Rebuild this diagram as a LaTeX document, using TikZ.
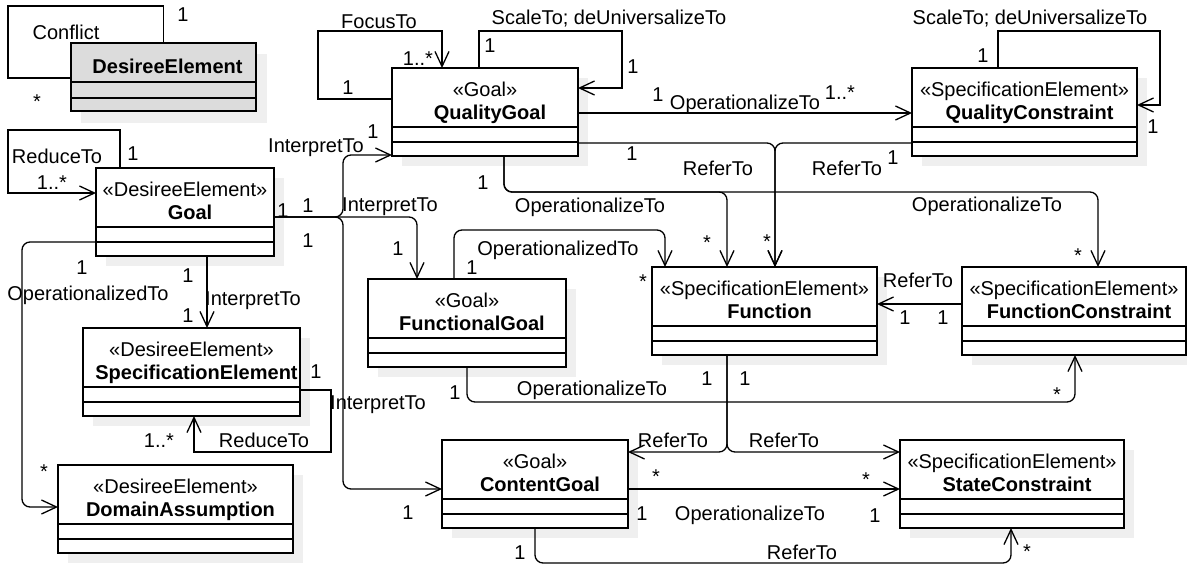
\documentclass[tikz,border=0pt]{standalone}
\usepackage{fontspec}
\setmainfont{Liberation Sans}
\usetikzlibrary{arrows.meta,calc}

\definecolor{shadowgray}{HTML}{EFEFEF}
\definecolor{headgray}{HTML}{DCDCDC}

\tikzset{
  every node/.style={font=\fontsize{20}{24}\selectfont},
  classbox/.style={draw, line width=1.3pt, fill=white, inner sep=0pt, outer sep=0pt},
  boxline/.style={line width=1.3pt},
  stereo/.style={inner sep=0pt},
  cname/.style={inner sep=0pt, font=\fontsize{20}{24}\selectfont\bfseries},
  lab/.style={inner sep=0pt, text height=14.5pt, text depth=0pt, anchor=center},
  link/.style={line width=1.3pt},
  nav/.style={link, -{Straight Barb[length=15pt,width=14pt,line width=1.3pt]}},
  round/.style={rounded corners=8pt},
}

% multiplicity and role labels, numbered automatically
\newcounter{tagno}
\newcommand{\tagat}[3]{\stepcounter{tagno}\node[lab] (tag-\arabic{tagno}) at (#1,#2) {#3};}
\newcommand{\starat}[2]{\stepcounter{tagno}\node[lab,yshift=-4pt] (tag-\arabic{tagno}) at (#1,#2) {*};}

% UML class: name, left, top, width, stereotype, class name
\newcommand{\umlclass}[6]{%
  \fill[shadowgray] (#2+10,#3+10) rectangle ++(#4,88);
  \node[classbox, minimum width=#4pt, minimum height=88pt, anchor=north west] (#1) at (#2,#3) {};
  \draw[boxline] ($(#1.north west)+(0,59)$) -- ($(#1.north east)+(0,59)$);
  \draw[boxline] ($(#1.north west)+(0,74)$) -- ($(#1.north east)+(0,74)$);
  \node[stereo, anchor=base] (#1-st) at ($(#1.north)+(0,28.5)$) {«#5»};
  \node[cname, anchor=base] (#1-nm) at ($(#1.north)+(5,51)$) {#6};
}

\begin{document}
\begin{tikzpicture}[x=1pt, y=-1pt]
\useasboundingbox (0,0) rectangle (1187,568);

% ---- abstract root class
\fill[shadowgray] (81,54) rectangle (267,123);
\node[classbox, fill=headgray, minimum width=185pt, minimum height=68pt, anchor=north west] (de) at (71,43) {};
\draw[boxline] ($(de.north west)+(0,39)$) -- ($(de.north east)+(0,39)$);
\draw[boxline] ($(de.north west)+(0,55)$) -- ($(de.north east)+(0,55)$);
\node[cname, anchor=base] (de-nm) at ($(de.north)+(4,30)$) {DesireeElement};

% ---- classes
\umlclass{goal}{96}{168}{178}{DesireeElement}{Goal}
\umlclass{qg}{392}{68}{186}{Goal}{QualityGoal}
\umlclass{qc}{912}{68}{225}{SpecificationElement}{QualityConstraint}
\umlclass{fg}{368}{279}{198}{Goal}{FunctionalGoal}
\umlclass{fn}{652}{267}{225}{SpecificationElement}{Function}
\umlclass{fc}{962}{267}{224}{SpecificationElement}{FunctionConstraint}
\umlclass{se}{83}{328}{217}{DesireeElement}{SpecificationElement}
\umlclass{da}{58}{465}{235}{DesireeElement}{DomainAssumption}
\umlclass{cg}{442}{440}{186}{Goal}{ContentGoal}
\umlclass{sc}{900}{440}{224}{SpecificationElement}{StateConstraint}

% ---- self associations
\draw[link] (de.north) |- (8,6) |- ($(de.north west)+(0,35)$);
\draw[nav] ($(goal.north west)+(24,0)$) |- (8,130) |- ($(goal.north west)+(0,25)$);
\draw[nav] ($(qg.north west)+(0,31)$) -| (318,31) -| ($(qg.north west)+(50,0)$);
\draw[nav] ($(qg.north west)+(87,0)$) |- (622,31) |- ($(qg.north east)+(0,20)$);
\draw[nav] ($(qc.north west)+(86,0)$) |- (1160,31) |- ($(qc.north east)+(0,37)$);
\draw[nav] ($(se.north east)+(0,62)$) -| (331,452) -| ($(se.south west)+(111,0)$);

% ---- associations
\draw[nav] ($(qg.north east)+(0,45)$) -- ($(qc.north west)+(0,45)$);
\draw[nav,round] ($(qg.north east)+(0,75)$) -| ($(fn.north west)+(123,0)$);
\draw[nav,round] ($(qc.north west)+(0,75)$) -| ($(fn.north west)+(123,0)$);
\draw[nav,round] ($(qg.south west)+(112,0)$) |- (600,192) -| ($(fn.north west)+(75,0)$);
\draw[nav,round] ($(qg.south west)+(112,0)$) |- (900,192) -| ($(fc.north west)+(136,0)$);
\draw[nav,round] ($(goal.north east)+(0,49)$) -| (343,155) -- ($(qg.north west)+(0,87)$);
\draw[nav,round] ($(goal.north east)+(0,49)$) -| ($(fg.north west)+(49,0)$);
\draw[nav,round] ($(goal.north east)+(0,49)$) -| (343,489) -- ($(cg.north west)+(0,49)$);
\draw[nav] ($(goal.south west)+(111,0)$) -- ($(se.north west)+(124,0)$);
\draw[nav,round] ($(goal.north west)+(0,74)$) -| (22,507) -- ($(da.north west)+(0,42)$);
\draw[nav,round] ($(fg.north west)+(86,0)$) |- (600,230) -| ($(fn.north west)+(13,0)$);
\draw[nav,round] ($(fg.south west)+(99,0)$) |- (800,402) -| ($(fc.south west)+(113,0)$);
\draw[nav] ($(fc.north west)+(0,37)$) -- ($(fn.north east)+(0,37)$);
\draw[nav,round] ($(fn.south west)+(75,0)$) |- ($(cg.north east)+(0,12)$);
\draw[nav,round] ($(fn.south west)+(75,0)$) |- ($(sc.north west)+(0,12)$);
\draw[nav] ($(cg.north east)+(0,49)$) -- ($(sc.north west)+(0,49)$);
\draw[nav,round] ($(cg.south west)+(93,0)$) |- (800,563) -| ($(sc.south west)+(111,0)$);

% ---- labels
\tagat{66}{32}{Conflict} \tagat{183}{14}{1} \starat{37}{97}
\tagat{57}{156}{ReduceTo} \tagat{52}{182}{1..*} \tagat{133}{153}{1}
\tagat{379}{21}{FocusTo} \tagat{418}{58}{1..*} \tagat{348}{87}{1}
\tagat{609}{17}{ScaleTo; deUniversalizeTo} \tagat{490}{45}{1} \tagat{633}{66}{1}
\tagat{1030}{17}{ScaleTo; deUniversalizeTo} \tagat{983}{55}{1} \tagat{1153}{126}{1}
\tagat{745}{102}{OperationalizeTo} \tagat{658}{94}{1} \tagat{840}{92}{1..*}
\tagat{632}{153}{1} \tagat{718}{168}{ReferTo} \starat{767}{237}
\tagat{847}{168}{ReferTo} \tagat{893}{157}{1}
\tagat{483}{182}{1} \tagat{590}{205}{OperationalizeTo} \starat{707}{238}
\tagat{987}{204}{OperationalizeTo} \starat{1078}{251}
\tagat{316}{145}{InterpretTo} \tagat{373}{131}{1}
\tagat{283}{210}{1} \tagat{308}{205}{1} \tagat{308}{240}{1}
\tagat{390}{204}{InterpretTo} \tagat{398}{248}{1}
\tagat{378}{402}{InterpretTo} \tagat{408}{512}{1}
\tagat{188}{275}{1} \tagat{253}{298}{InterpretTo} \tagat{188}{315}{1}
\tagat{82}{267}{1} \tagat{88}{293}{OperationalizedTo} \starat{44}{467}
\tagat{316}{371}{1} \tagat{264}{440}{ReduceTo} \tagat{159}{440}{1..*}
\tagat{558}{248}{OperationalizedTo} \tagat{472}{267}{1} \starat{643}{277}
\tagat{455}{392}{1} \tagat{592}{388}{OperationalizeTo} \starat{1057}{390}
\tagat{918}{280}{ReferTo} \tagat{905}{317}{1} \tagat{943}{317}{1}
\tagat{707}{378}{1} \tagat{673}{440}{ReferTo}
\tagat{745}{378}{1} \tagat{784}{440}{ReferTo}
\starat{656}{472} \tagat{642}{513}{1} \tagat{750}{513}{OperationalizeTo} \starat{866}{475} \tagat{875}{515}{1}
\tagat{520}{552}{1} \tagat{802}{552}{ReferTo} \starat{1027}{547}
\end{tikzpicture}
\end{document}
